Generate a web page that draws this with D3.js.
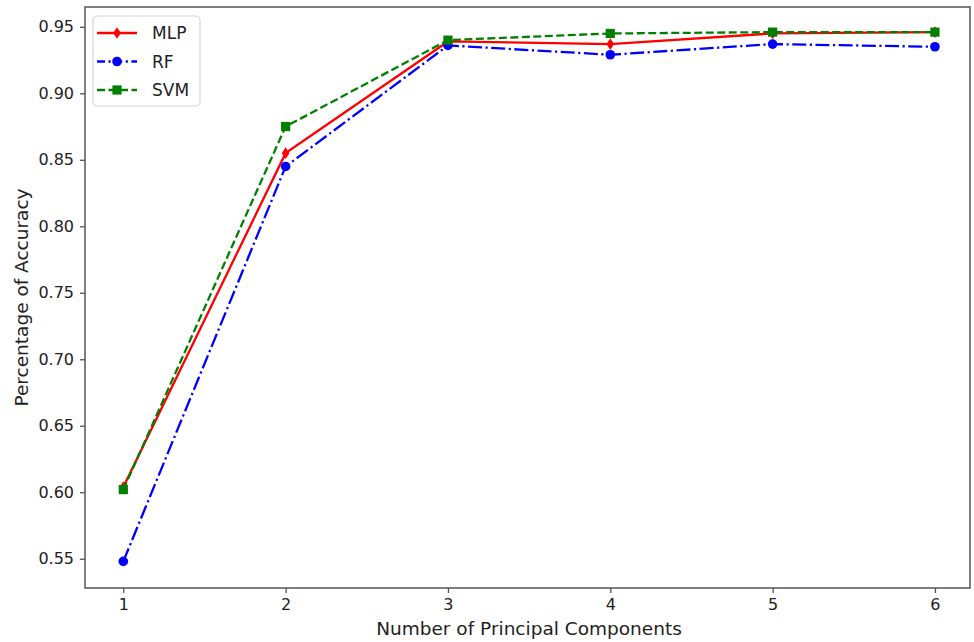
<!DOCTYPE html>
<html><head><meta charset="utf-8">
<script src="https://cdn.jsdelivr.net/npm/d3@7"></script>
<style>body{margin:0;background:#fff}svg{display:block}text{font-family:"DejaVu Sans",sans-serif;fill:#222}</style>
</head><body><svg id="c" width="974" height="642"></svg>
<script>
const components = [1, 2, 3, 4, 5, 6];
const mlp = [0.604, 0.855, 0.939, 0.937, 0.945, 0.946];
const rf  = [0.548, 0.845, 0.936, 0.929, 0.937, 0.935];
const svm = [0.602, 0.875, 0.940, 0.945, 0.946, 0.946];
const yTicks = [0.55, 0.60, 0.65, 0.70, 0.75, 0.80, 0.85, 0.90, 0.95];
const seriesNames = ["MLP", "RF", "SVM"];

const svg = d3.select("#c");
const L = 85, R = 970, T = 7, B = 588;
const x = d3.scaleLinear().domain([0.764, 6.216]).range([L, R]);
const y = d3.scaleLinear().domain([0.5280, 0.9649]).range([B, T]);

// spines
svg.append("rect").attr("x", L).attr("y", T).attr("width", R - L).attr("height", B - T)
  .attr("fill", "none").attr("stroke", "#555").attr("stroke-width", 1.5);

const xAxis = svg.append("g").attr("transform", `translate(0,${B})`)
  .call(d3.axisBottom(x).tickValues(components).tickFormat(d3.format("d")).tickSize(5).tickPadding(6));
const yAxis = svg.append("g").attr("transform", `translate(${L},0)`)
  .call(d3.axisLeft(y).tickValues(yTicks).tickFormat(d3.format(".2f")).tickSize(5).tickPadding(6));
[xAxis, yAxis].forEach(g => {
  g.select(".domain").remove();
  g.selectAll("line").attr("stroke", "#555").attr("stroke-width", 1.3);
  g.selectAll("text").attr("font-size", 16).attr("fill", "#222").attr("font-family", "DejaVu Sans");
});

svg.append("text").attr("x", 529).attr("y", 635).attr("text-anchor", "middle")
  .attr("font-size", 18.5).text("Number of Principal Components");
svg.append("text").attr("transform", `translate(28,${(T + B) / 2}) rotate(-90)`)
  .attr("text-anchor", "middle").attr("font-size", 18.5).text("Percentage of Accuracy");

const series = [
  {name: seriesNames[0], values: mlp, color: "#ff0000", dash: null, marker: "diamond"},
  {name: seriesNames[1], values: rf, color: "#0000ff", dash: "14,3.5,2.2,3.5", marker: "circle"},
  {name: seriesNames[2], values: svm, color: "#008000", dash: "8,3.5", marker: "square"}
];

function drawMarker(g, type, cx, cy, color) {
  if (type === "circle") {
    g.append("circle").attr("cx", cx).attr("cy", cy).attr("r", 4.8).attr("fill", color);
  } else if (type === "square") {
    g.append("rect").attr("x", cx - 4.6).attr("y", cy - 4.6).attr("width", 9.2).attr("height", 9.2).attr("fill", color);
  } else {
    g.append("path").attr("d", `M${cx},${cy - 5.8}L${cx + 3.8},${cy}L${cx},${cy + 5.8}L${cx - 3.8},${cy}Z`).attr("fill", color);
  }
}

const line = d3.line().x((d, i) => x(components[i])).y(d => y(d));
series.forEach(s => {
  const g = svg.append("g");
  g.append("path").attr("d", line(s.values)).attr("fill", "none").attr("stroke", s.color)
    .attr("stroke-width", 2.3).attr("stroke-dasharray", s.dash);
  s.values.forEach((v, i) => drawMarker(g, s.marker, x(components[i]), y(v), s.color));
});

// legend
const lg = svg.append("g");
lg.append("rect").attr("x", 93).attr("y", 16).attr("width", 107).attr("height", 90).attr("rx", 4)
  .attr("fill", "#fff").attr("fill-opacity", 0.8).attr("stroke", "#d6d6d6").attr("stroke-width", 1.2);
series.forEach((s, i) => {
  const cy = 33 + i * 28.5;
  lg.append("line").attr("x1", 97).attr("x2", 137).attr("y1", cy).attr("y2", cy)
    .attr("stroke", s.color).attr("stroke-width", 2.3).attr("stroke-dasharray", s.name === "RF" ? "8,3.5,2.2,3.5" : s.dash);
  drawMarker(lg, s.marker, 117, cy, s.color);
  lg.append("text").attr("x", 152).attr("y", cy + 6).attr("font-size", 17).text(s.name);
});
</script></body></html>
